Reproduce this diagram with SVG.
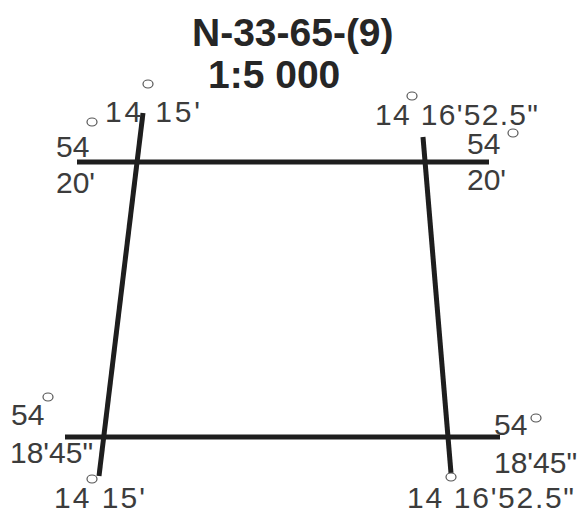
<svg xmlns="http://www.w3.org/2000/svg" width="585" height="516" viewBox="0 0 585 516">
<style>
.t{font-family:"Liberation Sans",Arial,sans-serif;font-size:30px;fill:#3c3c3c}
.h{font-family:"Liberation Sans",Arial,sans-serif;font-size:39px;font-weight:bold;fill:#262626}
.ln{stroke:#1e1e1e;stroke-width:5;stroke-linecap:butt;fill:none}
.dg{fill:#fff;stroke:#555;stroke-width:1.2}
</style>
<rect width="585" height="516" fill="#fff"/>
<g id="title">
<text class="h" x="192" y="46">N-33-65-(9)</text>
<text class="h" x="208" y="88">1:5 000</text>
</g>
<g id="frame">
<line class="ln" x1="77" y1="162" x2="489" y2="162"/>
<line class="ln" x1="65" y1="437" x2="500" y2="437"/>
<line class="ln" x1="143" y1="113" x2="99" y2="476"/>
<line class="ln" x1="423" y1="137" x2="451" y2="473"/>
</g>
<g id="labels">
<text class="t" x="105" y="122" textLength="95" lengthAdjust="spacing">14 15'</text>
<text class="t" x="56" y="157">54</text>
<text class="t" x="56" y="193">20'</text>
<text class="t" x="375" y="125" textLength="163" lengthAdjust="spacing">14 16'52.5"</text>
<text class="t" x="467" y="154">54</text>
<text class="t" x="467" y="190">20'</text>
<text class="t" x="11" y="425">54</text>
<text class="t" x="10" y="463">18'45"</text>
<text class="t" x="54" y="508" textLength="91" lengthAdjust="spacing">14 15'</text>
<text class="t" x="494" y="435">54</text>
<text class="t" x="494" y="473">18'45"</text>
<text class="t" x="407" y="508" textLength="167" lengthAdjust="spacing">14 16'52.5"</text>
</g>
<g id="degrees">
<ellipse class="dg" cx="148" cy="84" rx="5" ry="4"/>
<ellipse class="dg" cx="92" cy="122" rx="5" ry="4"/>
<ellipse class="dg" cx="412" cy="96" rx="5" ry="4"/>
<ellipse class="dg" cx="513" cy="133" rx="5" ry="4"/>
<ellipse class="dg" cx="48" cy="397" rx="5" ry="4"/>
<ellipse class="dg" cx="92" cy="479" rx="5" ry="4"/>
<ellipse class="dg" cx="536" cy="418" rx="5" ry="4"/>
<ellipse class="dg" cx="451" cy="477" rx="5" ry="4"/>
</g>
</svg>
